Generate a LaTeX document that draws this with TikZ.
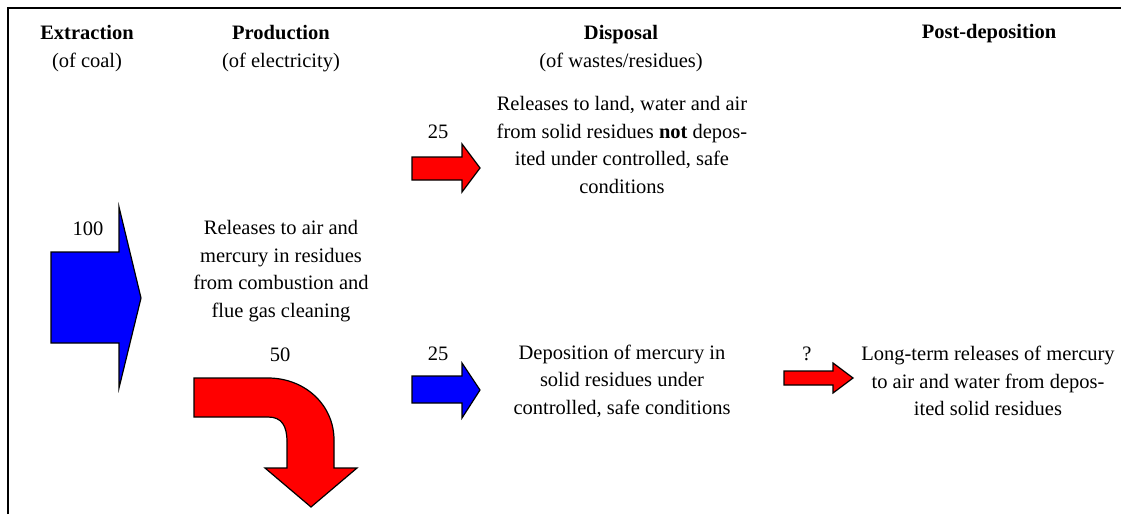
\documentclass[tikz,border=0pt]{standalone}
\usepackage{fontspec}
\setmainfont{Liberation Serif}
\definecolor{hgred}{RGB}{255,0,0}
\definecolor{hgblue}{RGB}{0,0,255}
\begin{document}
\begin{tikzpicture}[x=1pt,y=-1pt,
  txt/.style={inner sep=0pt,align=center,font=\fontsize{20.5}{27.6}\selectfont},
  lbl/.style={inner sep=0pt,font=\fontsize{20.5}{27.6}\selectfont},
  blockarrow/.style={draw=black,line width=1.2pt,line join=miter},
  redarrow/.style={blockarrow,fill=hgred},
  bluearrow/.style={blockarrow,fill=hgblue}]
\useasboundingbox (0,0) rectangle (1121,514);
% frame
\draw[line width=1.6pt] (8,514) -- (8,8) -- (1121,8);
% headers
\node[txt] (hExt) at (87,48.5) {\textbf{Extraction}\\(of coal)};
\node[txt] (hProd) at (281,48.5) {\textbf{Production}\\(of electricity)};
\node[txt] (hDisp) at (621,48.5) {\textbf{Disposal}\\(of wastes/residues)};
\node[txt] (hPost) at (989,34) {\textbf{Post-deposition}};
% text blocks
\node[txt] (prod) at (281,271) {Releases to air and\\mercury in residues\\from combustion and\\flue gas cleaning};
\node[txt] (disp1) at (622,145) {Releases to land, water and air\\from solid residues \textbf{not} depos-\\ited under controlled, safe\\conditions};
\node[txt] (disp2) at (622,381) {Deposition of mercury in\\solid residues under\\controlled, safe conditions};
\node[txt] (post) at (988,381) {Long-term releases of mercury\\to air and water from depos-\\ited solid residues};
% labels
\node[lbl] (l100) at (88,229) {100};
\node[lbl] (l50) at (280,355) {50};
\node[lbl] (l25a) at (438,132) {25};
\node[lbl] (l25b) at (438,354) {25};
\node[lbl] (lq) at (807,354) {?};
% big blue arrow
\draw[bluearrow] (51,252) -- (119,252) -- (119,207) -- (141,298) -- (119,388) -- (119,343) -- (51,343) -- cycle;
% curved red arrow
\draw[redarrow] (194,378) -- (268,378) .. controls (305,378) and (334,405) .. (334,440) -- (334,468) -- (357,468) -- (311,507) -- (265,468) -- (287,468) -- (287,442) .. controls (287,426) and (282,417) .. (268,417) -- (194,417) -- cycle;
% red arrow (disposal top)
\draw[redarrow] (412,157) -- (462,157) -- (462,144) -- (480,168) -- (462,192) -- (462,180) -- (412,180) -- cycle;
% blue arrow (disposal bottom)
\draw[bluearrow] (412,376) -- (462,376) -- (462,363) -- (480,390) -- (462,418) -- (462,403) -- (412,403) -- cycle;
% red arrow (post-deposition)
\draw[redarrow] (784,371) -- (833,371) -- (833,363) -- (853,378) -- (833,393) -- (833,385) -- (784,385) -- cycle;
\end{tikzpicture}
\end{document}
